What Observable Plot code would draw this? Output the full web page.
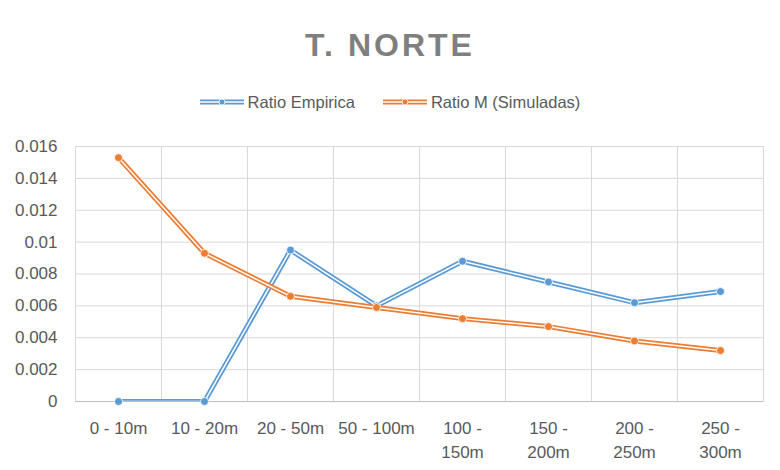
<!DOCTYPE html>
<html><head><meta charset="utf-8">
<script src="https://cdn.jsdelivr.net/npm/d3@7"></script>
<script src="https://cdn.jsdelivr.net/npm/@observablehq/plot@0.6"></script>
<style>
body{margin:0;background:#fff;font-family:"Liberation Sans",Arial,sans-serif;}
#wrap{position:relative;width:780px;height:470px;overflow:hidden;background:#fff;}
#title{position:absolute;left:0;top:26px;width:780px;text-align:center;font-size:32px;font-weight:bold;color:#7f7f7f;letter-spacing:3px;line-height:38px;}
#legend{position:absolute;left:0;top:90px;width:780px;display:flex;justify-content:center;align-items:center;font-size:16.5px;color:#595959;line-height:24px;}
#legend .item{display:flex;align-items:center;margin:0 14px;}
#legend svg{margin-right:4px;}
#chart{position:absolute;left:0;top:120px;}
</style></head>
<body><div id="wrap"><div id="title">T. NORTE</div><div id="legend"></div><div id="chart"></div></div>
<script>
const categories = ["0 - 10m","10 - 20m","20 - 50m","50 - 100m","100 - 150m","150 - 200m","200 - 250m","250 - 300m"];
const tickLabels = ["0 - 10m","10 - 20m","20 - 50m","50 - 100m","100 -\n150m","150 -\n200m","200 -\n250m","250 -\n300m"];
const ratioEmpirica = [0, 0, 0.0095, 0.0060, 0.0088, 0.0075, 0.0062, 0.0069];
const ratioSimuladas = [0.0153, 0.0093, 0.0066, 0.0059, 0.0052, 0.0047, 0.0038, 0.0032];
const yTicks = [0, 0.002, 0.004, 0.006, 0.008, 0.01, 0.012, 0.014, 0.016];
const seriesNames = ["Ratio Empirica", "Ratio M (Simuladas)"];
const seriesColors = ["#5b9bd5", "#ed7d31"];

const data = [];
categories.forEach((c, i) => {
  data.push({cat: c, s: seriesNames[0], v: ratioEmpirica[i]});
  data.push({cat: c, s: seriesNames[1], v: ratioSimuladas[i]});
});
const labelOf = new Map(categories.map((c, i) => [c, tickLabels[i]]));

const W = 780, H = 350, mL = 75, mR = 17, mT = 26, mB = 69;
const halfStep = (W - mL - mR) / categories.length / 2;
const font = '"Liberation Sans", Arial, sans-serif';

const marks = [
  Plot.gridY(yTicks, {stroke: "#d9d9d9", strokeOpacity: 1}),
  Plot.ruleX(categories, {dx: -halfStep, stroke: "#d9d9d9"}),
  Plot.frame({stroke: "#d9d9d9"}),
  Plot.ruleY([0], {stroke: "#bfbfbf", strokeWidth: 1.2}),
  Plot.axisY(yTicks, {tickSize: 0, tickPadding: 18, tickFormat: d => String(+d.toFixed(3)), fill: "#595959", fontSize: 17, label: null}),
  Plot.axisX(categories, {tickSize: 0, tickPadding: 16, tickFormat: d => labelOf.get(d), fill: "#595959", fontSize: 17, lineHeight: 1.4, label: null})
];
seriesNames.forEach((name, k) => {
  const d = data.filter(r => r.s === name);
  marks.push(Plot.line(d, {x: "cat", y: "v", stroke: seriesColors[k], strokeWidth: 5, clip: true}));
  marks.push(Plot.line(d, {x: "cat", y: "v", stroke: "#fff", strokeWidth: 1.5, clip: true}));
  marks.push(Plot.dot(d, {x: "cat", y: "v", fill: seriesColors[k], stroke: "#fff", strokeWidth: 0.8, r: 4}));
});

const chart = Plot.plot({
  width: W, height: H,
  marginLeft: mL, marginRight: mR, marginTop: mT, marginBottom: mB,
  style: {fontFamily: font, background: "#fff"},
  x: {type: "point", domain: categories, padding: 0.5, axis: null},
  y: {domain: [0, 0.016], axis: null},
  marks
});
document.getElementById("chart").appendChild(chart);

const legend = document.getElementById("legend");
seriesNames.forEach((name, k) => {
  const item = document.createElement("div");
  item.className = "item";
  const c = seriesColors[k];
  item.innerHTML = `<svg width="44" height="12"><line x1="0" y1="6" x2="44" y2="6" stroke="${c}" stroke-width="5"/><line x1="0" y1="6" x2="44" y2="6" stroke="#fff" stroke-width="1.5"/><circle cx="22" cy="6" r="3" fill="${c}" stroke="#fff" stroke-width="0.8"/></svg><span>${name}</span>`;
  legend.appendChild(item);
});
</script></body></html>
